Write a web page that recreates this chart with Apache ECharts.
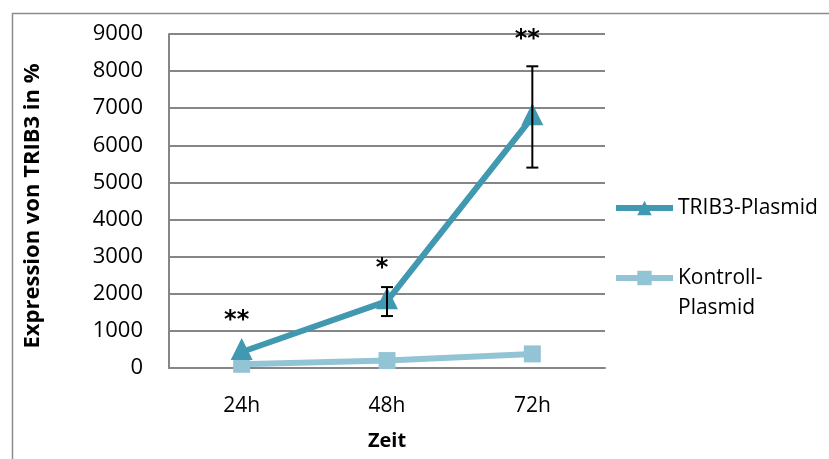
<!DOCTYPE html>
<html><head><meta charset="utf-8">
<script src="https://cdn.jsdelivr.net/npm/echarts@6/dist/echarts.min.js"></script>
<style>html,body{margin:0;padding:0;background:#fff}#c{width:829px;height:459px}</style>
</head><body><div id="c"></div>
<script>
const categories = ['24h', '48h', '72h'];
const trib3 = [430, 1800, 6760];
const kontroll = [100, 200, 380];
const trib3ErrLow = [null, 1400, 5400];
const trib3ErrHigh = [null, 2180, 8130];
const starLabels = ['**', '*', '**'];
const starLevels = [1500, 2900, 9050];
const yTicks = [0, 1000, 2000, 3000, 4000, 5000, 6000, 7000, 8000, 9000];

const FONT = '"Open Sans", sans-serif';
const chart = echarts.init(document.getElementById('c'), null, {renderer: 'canvas'});

const errData = categories.map((c, i) => [i, trib3ErrLow[i], trib3ErrHigh[i]]).filter(d => d[1] != null);
const starData = categories.map((c, i) => [i, starLevels[i], starLabels[i]]);

const legendCommon = {
  orient: 'vertical', left: 613, itemWidth: 57, itemHeight: 18, padding: 0,
  lineStyle: {width: 6},
  textStyle: {color: '#000', fontFamily: FONT, fontSize: 21, lineHeight: 30}
};

chart.setOption({
  animation: false,
  graphic: [{
    type: 'rect', left: 10, top: 11, shape: {width: 830, height: 460},
    style: {fill: 'none', stroke: '#8c8c8c', lineWidth: 1.5}, silent: true
  }, {
    type: 'text', x: 33, y: 206, rotation: Math.PI / 2, silent: true,
    style: {text: 'Expression von TRIB3 in %', fill: '#000', font: 'bold 22px "Open Sans", sans-serif',
      align: 'center', verticalAlign: 'middle'}
  }],
  grid: {left: 169, right: 224, top: 34, bottom: 91, outerBoundsMode: 'none'},
  xAxis: {
    type: 'category', data: categories, boundaryGap: true,
    axisLine: {lineStyle: {color: '#868686', width: 2}},
    axisTick: {show: false},
    axisLabel: {color: '#000', fontFamily: FONT, fontSize: 21, margin: 28},
    name: 'Zeit', nameLocation: 'middle', nameGap: 63,
    nameTextStyle: {color: '#000', fontFamily: FONT, fontSize: 20, fontWeight: 'bold'}
  },
  yAxis: {
    type: 'value', min: 0, max: 9000, interval: 1000,
    axisLine: {show: true, lineStyle: {color: '#868686', width: 2}},
    axisTick: {show: false},
    splitLine: {lineStyle: {color: '#868686', width: 2}},
    axisLabel: {color: '#000', fontFamily: FONT, fontSize: 22, margin: 26,
      formatter: v => yTicks.includes(v) ? String(v) : ''}
  },
  legend: [
    Object.assign({}, legendCommon, {
      top: 193,
      data: ['TRIB3-Plasmid']
    }),
    Object.assign({}, legendCommon, {
      top: 233,
      formatter: name => '\n' + name,
      data: ['Kontroll-\nPlasmid']
    })
  ],
  series: [
    {
      name: 'Kontroll-\nPlasmid', type: 'line', data: kontroll,
      symbol: 'rect', symbolSize: 17,
      lineStyle: {color: '#93c4d6', width: 6},
      itemStyle: {color: '#93c4d6'}, z: 3
    },
    {
      name: 'TRIB3-Plasmid', type: 'line', data: trib3,
      symbol: 'triangle', symbolSize: 22, symbolOffset: [0, -3],
      lineStyle: {color: '#4198b1', width: 6},
      itemStyle: {color: '#4198b1'}, z: 4
    },
    {
      type: 'custom', data: errData, z: 5, silent: true,
      renderItem: (params, api) => {
        const x = api.value(0);
        const lo = api.coord([x, api.value(1)]);
        const hi = api.coord([x, api.value(2)]);
        const cap = 6;
        const st = {stroke: '#000', lineWidth: 2};
        return {type: 'group', children: [
          {type: 'line', shape: {x1: lo[0], y1: lo[1], x2: hi[0], y2: hi[1]}, style: st},
          {type: 'line', shape: {x1: lo[0]-cap, y1: lo[1], x2: lo[0]+cap, y2: lo[1]}, style: st},
          {type: 'line', shape: {x1: hi[0]-cap, y1: hi[1], x2: hi[0]+cap, y2: hi[1]}, style: st}
        ]};
      }
    },
    {
      type: 'custom', data: starData, z: 6, silent: true,
      renderItem: (params, api) => {
        const p = api.coord([api.value(0), api.value(1)]);
        return {type: 'text', x: p[0] - 5, y: p[1] + 8,
          style: {text: starLabels[params.dataIndex], fill: '#000', font: 'bold 24px "DejaVu Sans", sans-serif',
            align: 'center', verticalAlign: 'middle', letterSpacing: 3}};
      }
    }
  ]
});
</script></body></html>
